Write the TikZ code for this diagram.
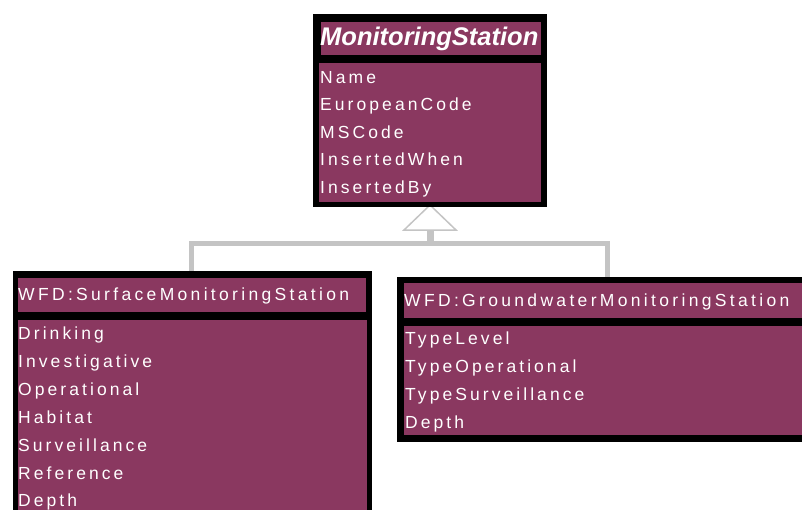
\documentclass[tikz,border=0pt]{standalone}
\usepackage{fontspec}
\setmainfont{Liberation Sans}
\newfontfamily\attrfont[LetterSpace=17.5]{Liberation Sans}
\newfontfamily\headfont[LetterSpace=19]{Liberation Sans}
\definecolor{umlpurple}{RGB}{138,56,96}
\definecolor{linkgray}{RGB}{196,196,196}
\begin{document}
\begin{tikzpicture}[x=1pt,y=-1pt,
  frame/.style={fill=black, draw=none, anchor=north west, inner sep=0pt, outer sep=0pt},
  band/.style={fill=umlpurple, draw=none, anchor=north west, inner sep=0pt, outer sep=0pt},
  attr/.style={text=white, anchor=base west, inner sep=0pt, font=\attrfont\fontsize{17.5}{17.5}\selectfont},
  head/.style={text=white, anchor=base west, inner sep=0pt, font=\headfont\fontsize{17.5}{17.5}\selectfont},
  link/.style={draw=linkgray, line width=5pt},
  gentri/.style={draw=linkgray, fill=white, line width=1.5pt, line join=miter},
]
\useasboundingbox (0,0) rectangle (802,509);
\clip (0,0) rectangle (802,509);

% connectors
\coordinate (apex) at (430,205);
\coordinate (tb) at (430,230);
\coordinate (bus) at (430,243.5);
\coordinate (sfTop) at (191.5,272);
\coordinate (gwTop) at (607,278);
\draw[link, line width=7pt] (tb) -- (bus);
\draw[link] (sfTop) |- (bus) -| (gwTop);
\draw[gentri] (apex) -- ++(-26,25) -- ++(52,0) -- cycle;

% MonitoringStation
\node[frame, minimum width=234pt, minimum height=193pt] (ms) at (313,14) {};
\node[band, minimum width=220pt, minimum height=33pt] (msT) at (321,22) {};
\node[band, minimum width=222pt, minimum height=139pt] (msA) at (319,63) {};
\node[text=white, anchor=base west, inner sep=0pt, font=\fontsize{25.5}{25.5}\selectfont\bfseries\itshape] (msN) at (320,45) {MonitoringStation};
\node[attr] (ms1) at (320,83) {Name};
\node[attr] (ms2) at (320,110.5) {EuropeanCode};
\node[attr] (ms3) at (320,138) {MSCode};
\node[attr] (ms4) at (320,165.5) {InsertedWhen};
\node[attr] (ms5) at (320,193) {InsertedBy};

% WFD:SurfaceMonitoringStation
\node[frame, minimum width=359pt, minimum height=260pt] (sf) at (13,271) {};
\node[band, minimum width=348pt, minimum height=34pt] (sfT) at (18,278) {};
\node[band, minimum width=349pt, minimum height=200pt] (sfA) at (18,320) {};
\node[head] (sfN) at (18,300) {WFD:SurfaceMonitoringStation};
\node[attr] (sf1) at (18,339) {Drinking};
\node[attr] (sf2) at (18,367) {Investigative};
\node[attr] (sf3) at (18,395) {Operational};
\node[attr] (sf4) at (18,423) {Habitat};
\node[attr] (sf5) at (18,451) {Surveillance};
\node[attr] (sf6) at (18,479) {Reference};
\node[attr] (sf7) at (18,506) {Depth};

% WFD:GroundwaterMonitoringStation
\node[frame, minimum width=420pt, minimum height=165pt] (gw) at (397,277) {};
\node[band, minimum width=420pt, minimum height=35pt] (gwT) at (404,283) {};
\node[band, minimum width=420pt, minimum height=109pt] (gwA) at (404,326) {};
\node[head] (gwN) at (404,306) {WFD:GroundwaterMonitoringStation};
\node[attr] (gw1) at (405,344) {TypeLevel};
\node[attr] (gw2) at (405,372) {TypeOperational};
\node[attr] (gw3) at (405,400) {TypeSurveillance};
\node[attr] (gw4) at (405,428) {Depth};
\end{tikzpicture}
\end{document}
